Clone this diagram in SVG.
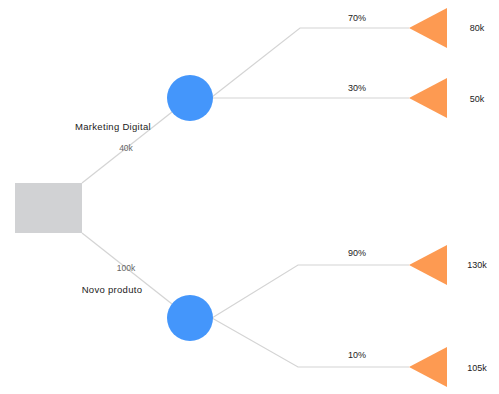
<svg xmlns="http://www.w3.org/2000/svg" width="499" height="394" viewBox="0 0 499 394">
<style>
.edge{fill:none;stroke:#d4d4d4;stroke-width:1.2}
.t{font-family:"Liberation Sans",Arial,sans-serif;font-size:9px;fill:#222}
.l{font-family:"Liberation Sans",Arial,sans-serif;font-size:9.5px;fill:#222;letter-spacing:0.3px}
.s{font-family:"Liberation Sans",Arial,sans-serif;font-size:8.5px;fill:#666}
.chance{fill:#4496fb}
.end{fill:#fd9a52}
.dec{fill:#d1d2d4}
</style>
<rect width="499" height="394" fill="#fff"/>
<g id="connectors">
<path class="edge" d="M82,183 L172,112"/>
<path class="edge" d="M82,233 L172,304"/>
<path class="edge" d="M212,97 L300,28 L409,28"/>
<path class="edge" d="M213,98 L409,98"/>
<path class="edge" d="M212,318 L298,265 L409,265"/>
<path class="edge" d="M212,318 L298,367 L409,367"/>
</g>
<g id="decision"><rect class="dec" x="15" y="183" width="67" height="50"/></g>
<g id="chance1"><circle class="chance" cx="190" cy="98" r="23"/></g>
<g id="chance2"><circle class="chance" cx="190" cy="318" r="23"/></g>
<g id="end1"><polygon class="end" points="409,28 447,8 447,48"/></g>
<g id="end2"><polygon class="end" points="409,98 447,78 447,118"/></g>
<g id="end3"><polygon class="end" points="409,265 447,245 447,285"/></g>
<g id="end4"><polygon class="end" points="409,367 447,347 447,387"/></g>
<g id="labels">
<text class="l" x="113" y="130" text-anchor="middle">Marketing Digital</text>
<text class="s" x="126" y="151" text-anchor="middle">40k</text>
<text class="s" x="126" y="271" text-anchor="middle">100k</text>
<text class="l" x="112" y="293" text-anchor="middle">Novo produto</text>
<text class="t" x="357" y="21" text-anchor="middle">70%</text>
<text class="t" x="357" y="91" text-anchor="middle">30%</text>
<text class="t" x="357" y="256" text-anchor="middle">90%</text>
<text class="t" x="357" y="358" text-anchor="middle">10%</text>
<text class="t" x="477" y="31" text-anchor="middle">80k</text>
<text class="t" x="477" y="102" text-anchor="middle">50k</text>
<text class="t" x="477" y="268" text-anchor="middle">130k</text>
<text class="t" x="477" y="371" text-anchor="middle">105k</text>
</g>
</svg>
